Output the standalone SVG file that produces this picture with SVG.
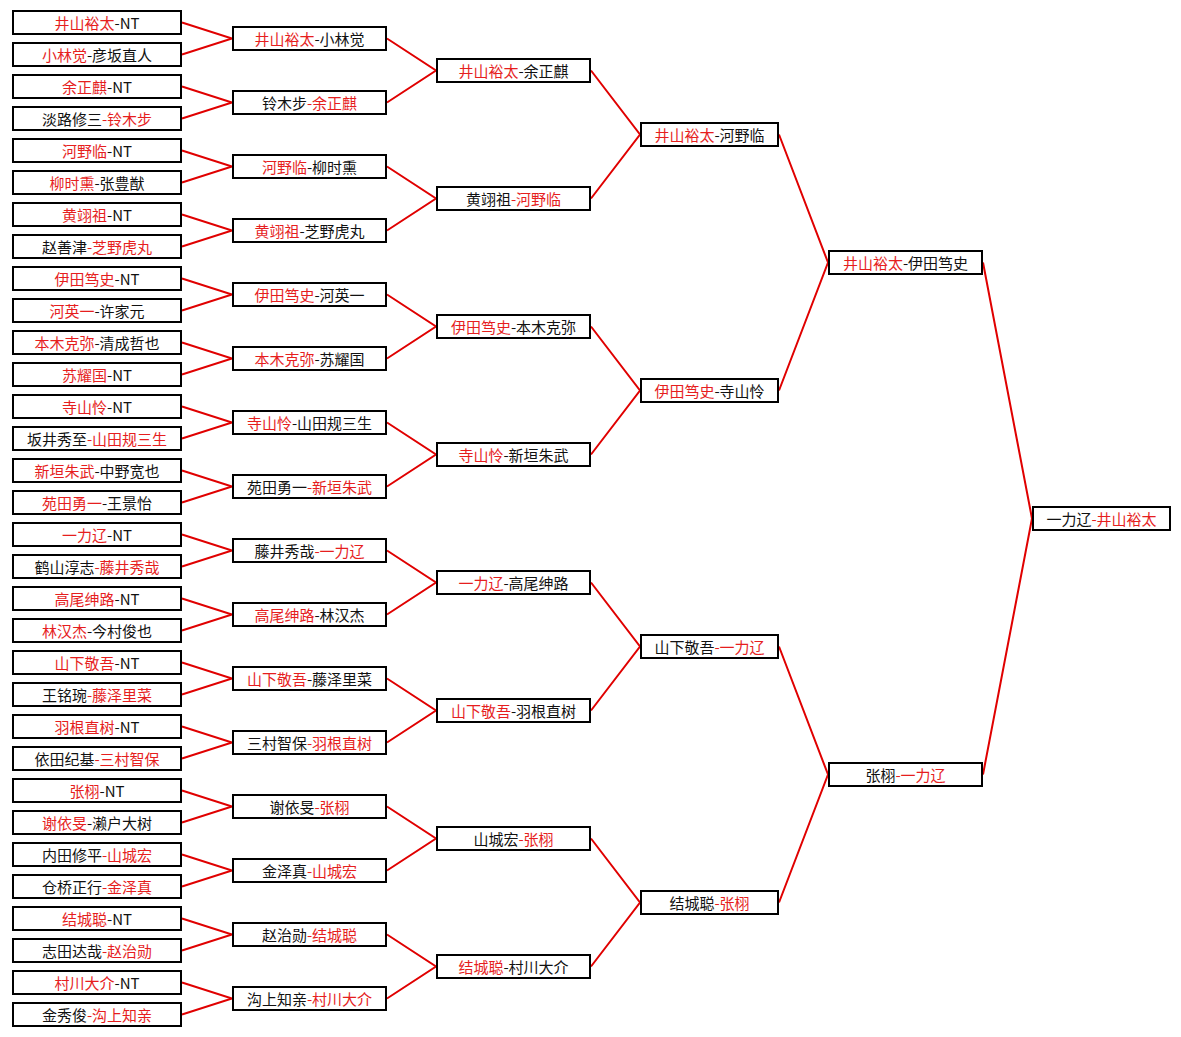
<svg xmlns="http://www.w3.org/2000/svg" width="1181" height="1037" viewBox="0 0 1181 1037">
<style>
.bg{fill:#ffffff}
.wire{fill:none;stroke:#e00000;stroke-width:2}
.box{fill:#ffffff;stroke:#000000;stroke-width:2}
.lbl{font-family:"Noto Sans CJK SC",sans-serif;font-size:15px;text-anchor:middle;fill:#111111}
.w{fill:#e61e1e}
</style>
<rect class="bg" x="0" y="0" width="1181" height="1037"/>
<g id="connectors" class="wire">
<path d="M182 22.5L232 38.5L182 54.5"/>
<path d="M182 86.5L232 102.5L182 118.5"/>
<path d="M182 150.5L232 166.5L182 182.5"/>
<path d="M182 214.5L232 230.5L182 246.5"/>
<path d="M182 278.5L232 294.5L182 310.5"/>
<path d="M182 342.5L232 358.5L182 374.5"/>
<path d="M182 406.5L232 422.5L182 438.5"/>
<path d="M182 470.5L232 486.5L182 502.5"/>
<path d="M182 534.5L232 550.5L182 566.5"/>
<path d="M182 598.5L232 614.5L182 630.5"/>
<path d="M182 662.5L232 678.5L182 694.5"/>
<path d="M182 726.5L232 742.5L182 758.5"/>
<path d="M182 790.5L232 806.5L182 822.5"/>
<path d="M182 854.5L232 870.5L182 886.5"/>
<path d="M182 918.5L232 934.5L182 950.5"/>
<path d="M182 982.5L232 998.5L182 1014.5"/>
<path d="M387 38.5L436 70.5L387 102.5"/>
<path d="M387 166.5L436 198.5L387 230.5"/>
<path d="M387 294.5L436 326.5L387 358.5"/>
<path d="M387 422.5L436 454.5L387 486.5"/>
<path d="M387 550.5L436 582.5L387 614.5"/>
<path d="M387 678.5L436 710.5L387 742.5"/>
<path d="M387 806.5L436 838.5L387 870.5"/>
<path d="M387 934.5L436 966.5L387 998.5"/>
<path d="M591 70.5L640 134.5L591 198.5"/>
<path d="M591 326.5L640 390.5L591 454.5"/>
<path d="M591 582.5L640 646.5L591 710.5"/>
<path d="M591 838.5L640 902.5L591 966.5"/>
<path d="M779 134.5L828 262.5L779 390.5"/>
<path d="M779 646.5L828 774.5L779 902.5"/>
<path d="M983 262.5L1032 518.5L983 774.5"/>
</g>
<g id="round1">
<g id="r1-1"><rect class="box" x="13" y="11" width="168" height="23"/><text class="lbl" x="97" y="28.5"><tspan class="w">井山裕太</tspan>-NT</text></g>
<g id="r1-2"><rect class="box" x="13" y="43" width="168" height="23"/><text class="lbl" x="97" y="60.5"><tspan class="w">小林觉</tspan>-彦坂直人</text></g>
<g id="r1-3"><rect class="box" x="13" y="75" width="168" height="23"/><text class="lbl" x="97" y="92.5"><tspan class="w">余正麒</tspan>-NT</text></g>
<g id="r1-4"><rect class="box" x="13" y="107" width="168" height="23"/><text class="lbl" x="97" y="124.5">淡路修三<tspan class="w">-铃木步</tspan></text></g>
<g id="r1-5"><rect class="box" x="13" y="139" width="168" height="23"/><text class="lbl" x="97" y="156.5"><tspan class="w">河野临</tspan>-NT</text></g>
<g id="r1-6"><rect class="box" x="13" y="171" width="168" height="23"/><text class="lbl" x="97" y="188.5"><tspan class="w">柳时熏</tspan>-张豊猷</text></g>
<g id="r1-7"><rect class="box" x="13" y="203" width="168" height="23"/><text class="lbl" x="97" y="220.5"><tspan class="w">黄翊祖</tspan>-NT</text></g>
<g id="r1-8"><rect class="box" x="13" y="235" width="168" height="23"/><text class="lbl" x="97" y="252.5">赵善津<tspan class="w">-芝野虎丸</tspan></text></g>
<g id="r1-9"><rect class="box" x="13" y="267" width="168" height="23"/><text class="lbl" x="97" y="284.5"><tspan class="w">伊田笃史</tspan>-NT</text></g>
<g id="r1-10"><rect class="box" x="13" y="299" width="168" height="23"/><text class="lbl" x="97" y="316.5"><tspan class="w">河英一</tspan>-许家元</text></g>
<g id="r1-11"><rect class="box" x="13" y="331" width="168" height="23"/><text class="lbl" x="97" y="348.5"><tspan class="w">本木克弥</tspan>-清成哲也</text></g>
<g id="r1-12"><rect class="box" x="13" y="363" width="168" height="23"/><text class="lbl" x="97" y="380.5"><tspan class="w">苏耀国</tspan>-NT</text></g>
<g id="r1-13"><rect class="box" x="13" y="395" width="168" height="23"/><text class="lbl" x="97" y="412.5"><tspan class="w">寺山怜</tspan>-NT</text></g>
<g id="r1-14"><rect class="box" x="13" y="427" width="168" height="23"/><text class="lbl" x="97" y="444.5">坂井秀至<tspan class="w">-山田规三生</tspan></text></g>
<g id="r1-15"><rect class="box" x="13" y="459" width="168" height="23"/><text class="lbl" x="97" y="476.5"><tspan class="w">新垣朱武</tspan>-中野宽也</text></g>
<g id="r1-16"><rect class="box" x="13" y="491" width="168" height="23"/><text class="lbl" x="97" y="508.5"><tspan class="w">苑田勇一</tspan>-王景怡</text></g>
<g id="r1-17"><rect class="box" x="13" y="523" width="168" height="23"/><text class="lbl" x="97" y="540.5"><tspan class="w">一力辽</tspan>-NT</text></g>
<g id="r1-18"><rect class="box" x="13" y="555" width="168" height="23"/><text class="lbl" x="97" y="572.5">鹤山淳志<tspan class="w">-藤井秀哉</tspan></text></g>
<g id="r1-19"><rect class="box" x="13" y="587" width="168" height="23"/><text class="lbl" x="97" y="604.5"><tspan class="w">高尾绅路</tspan>-NT</text></g>
<g id="r1-20"><rect class="box" x="13" y="619" width="168" height="23"/><text class="lbl" x="97" y="636.5"><tspan class="w">林汉杰</tspan>-今村俊也</text></g>
<g id="r1-21"><rect class="box" x="13" y="651" width="168" height="23"/><text class="lbl" x="97" y="668.5"><tspan class="w">山下敬吾</tspan>-NT</text></g>
<g id="r1-22"><rect class="box" x="13" y="683" width="168" height="23"/><text class="lbl" x="97" y="700.5">王铭琬<tspan class="w">-藤泽里菜</tspan></text></g>
<g id="r1-23"><rect class="box" x="13" y="715" width="168" height="23"/><text class="lbl" x="97" y="732.5"><tspan class="w">羽根直树</tspan>-NT</text></g>
<g id="r1-24"><rect class="box" x="13" y="747" width="168" height="23"/><text class="lbl" x="97" y="764.5">依田纪基<tspan class="w">-三村智保</tspan></text></g>
<g id="r1-25"><rect class="box" x="13" y="779" width="168" height="23"/><text class="lbl" x="97" y="796.5"><tspan class="w">张栩</tspan>-NT</text></g>
<g id="r1-26"><rect class="box" x="13" y="811" width="168" height="23"/><text class="lbl" x="97" y="828.5"><tspan class="w">谢依旻</tspan>-濑户大树</text></g>
<g id="r1-27"><rect class="box" x="13" y="843" width="168" height="23"/><text class="lbl" x="97" y="860.5">内田修平<tspan class="w">-山城宏</tspan></text></g>
<g id="r1-28"><rect class="box" x="13" y="875" width="168" height="23"/><text class="lbl" x="97" y="892.5">仓桥正行<tspan class="w">-金泽真</tspan></text></g>
<g id="r1-29"><rect class="box" x="13" y="907" width="168" height="23"/><text class="lbl" x="97" y="924.5"><tspan class="w">结城聪</tspan>-NT</text></g>
<g id="r1-30"><rect class="box" x="13" y="939" width="168" height="23"/><text class="lbl" x="97" y="956.5">志田达哉<tspan class="w">-赵治勋</tspan></text></g>
<g id="r1-31"><rect class="box" x="13" y="971" width="168" height="23"/><text class="lbl" x="97" y="988.5"><tspan class="w">村川大介</tspan>-NT</text></g>
<g id="r1-32"><rect class="box" x="13" y="1003" width="168" height="23"/><text class="lbl" x="97" y="1020.5">金秀俊<tspan class="w">-沟上知亲</tspan></text></g>
</g>
<g id="round2">
<g id="r2-1"><rect class="box" x="233" y="27" width="153" height="23"/><text class="lbl" x="309.5" y="44.5"><tspan class="w">井山裕太</tspan>-小林觉</text></g>
<g id="r2-2"><rect class="box" x="233" y="91" width="153" height="23"/><text class="lbl" x="309.5" y="108.5">铃木步<tspan class="w">-余正麒</tspan></text></g>
<g id="r2-3"><rect class="box" x="233" y="155" width="153" height="23"/><text class="lbl" x="309.5" y="172.5"><tspan class="w">河野临</tspan>-柳时熏</text></g>
<g id="r2-4"><rect class="box" x="233" y="219" width="153" height="23"/><text class="lbl" x="309.5" y="236.5"><tspan class="w">黄翊祖</tspan>-芝野虎丸</text></g>
<g id="r2-5"><rect class="box" x="233" y="283" width="153" height="23"/><text class="lbl" x="309.5" y="300.5"><tspan class="w">伊田笃史</tspan>-河英一</text></g>
<g id="r2-6"><rect class="box" x="233" y="347" width="153" height="23"/><text class="lbl" x="309.5" y="364.5"><tspan class="w">本木克弥</tspan>-苏耀国</text></g>
<g id="r2-7"><rect class="box" x="233" y="411" width="153" height="23"/><text class="lbl" x="309.5" y="428.5"><tspan class="w">寺山怜</tspan>-山田规三生</text></g>
<g id="r2-8"><rect class="box" x="233" y="475" width="153" height="23"/><text class="lbl" x="309.5" y="492.5">苑田勇一<tspan class="w">-新垣朱武</tspan></text></g>
<g id="r2-9"><rect class="box" x="233" y="539" width="153" height="23"/><text class="lbl" x="309.5" y="556.5">藤井秀哉<tspan class="w">-一力辽</tspan></text></g>
<g id="r2-10"><rect class="box" x="233" y="603" width="153" height="23"/><text class="lbl" x="309.5" y="620.5"><tspan class="w">高尾绅路</tspan>-林汉杰</text></g>
<g id="r2-11"><rect class="box" x="233" y="667" width="153" height="23"/><text class="lbl" x="309.5" y="684.5"><tspan class="w">山下敬吾</tspan>-藤泽里菜</text></g>
<g id="r2-12"><rect class="box" x="233" y="731" width="153" height="23"/><text class="lbl" x="309.5" y="748.5">三村智保<tspan class="w">-羽根直树</tspan></text></g>
<g id="r2-13"><rect class="box" x="233" y="795" width="153" height="23"/><text class="lbl" x="309.5" y="812.5">谢依旻<tspan class="w">-张栩</tspan></text></g>
<g id="r2-14"><rect class="box" x="233" y="859" width="153" height="23"/><text class="lbl" x="309.5" y="876.5">金泽真<tspan class="w">-山城宏</tspan></text></g>
<g id="r2-15"><rect class="box" x="233" y="923" width="153" height="23"/><text class="lbl" x="309.5" y="940.5">赵治勋<tspan class="w">-结城聪</tspan></text></g>
<g id="r2-16"><rect class="box" x="233" y="987" width="153" height="23"/><text class="lbl" x="309.5" y="1004.5">沟上知亲<tspan class="w">-村川大介</tspan></text></g>
</g>
<g id="round3">
<g id="r3-1"><rect class="box" x="437" y="59" width="153" height="23"/><text class="lbl" x="513.5" y="76.5"><tspan class="w">井山裕太</tspan>-余正麒</text></g>
<g id="r3-2"><rect class="box" x="437" y="187" width="153" height="23"/><text class="lbl" x="513.5" y="204.5">黄翊祖<tspan class="w">-河野临</tspan></text></g>
<g id="r3-3"><rect class="box" x="437" y="315" width="153" height="23"/><text class="lbl" x="513.5" y="332.5"><tspan class="w">伊田笃史</tspan>-本木克弥</text></g>
<g id="r3-4"><rect class="box" x="437" y="443" width="153" height="23"/><text class="lbl" x="513.5" y="460.5"><tspan class="w">寺山怜</tspan>-新垣朱武</text></g>
<g id="r3-5"><rect class="box" x="437" y="571" width="153" height="23"/><text class="lbl" x="513.5" y="588.5"><tspan class="w">一力辽</tspan>-高尾绅路</text></g>
<g id="r3-6"><rect class="box" x="437" y="699" width="153" height="23"/><text class="lbl" x="513.5" y="716.5"><tspan class="w">山下敬吾</tspan>-羽根直树</text></g>
<g id="r3-7"><rect class="box" x="437" y="827" width="153" height="23"/><text class="lbl" x="513.5" y="844.5">山城宏<tspan class="w">-张栩</tspan></text></g>
<g id="r3-8"><rect class="box" x="437" y="955" width="153" height="23"/><text class="lbl" x="513.5" y="972.5"><tspan class="w">结城聪</tspan>-村川大介</text></g>
</g>
<g id="round4">
<g id="r4-1"><rect class="box" x="641" y="123" width="137" height="23"/><text class="lbl" x="709.5" y="140.5"><tspan class="w">井山裕太</tspan>-河野临</text></g>
<g id="r4-2"><rect class="box" x="641" y="379" width="137" height="23"/><text class="lbl" x="709.5" y="396.5"><tspan class="w">伊田笃史</tspan>-寺山怜</text></g>
<g id="r4-3"><rect class="box" x="641" y="635" width="137" height="23"/><text class="lbl" x="709.5" y="652.5">山下敬吾<tspan class="w">-一力辽</tspan></text></g>
<g id="r4-4"><rect class="box" x="641" y="891" width="137" height="23"/><text class="lbl" x="709.5" y="908.5">结城聪<tspan class="w">-张栩</tspan></text></g>
</g>
<g id="round5">
<g id="r5-1"><rect class="box" x="829" y="251" width="153" height="23"/><text class="lbl" x="905.5" y="268.5"><tspan class="w">井山裕太</tspan>-伊田笃史</text></g>
<g id="r5-2"><rect class="box" x="829" y="763" width="153" height="23"/><text class="lbl" x="905.5" y="780.5">张栩<tspan class="w">-一力辽</tspan></text></g>
</g>
<g id="final">
<g id="r6-1"><rect class="box" x="1033" y="507" width="137" height="23"/><text class="lbl" x="1101.5" y="524.5">一力辽<tspan class="w">-井山裕太</tspan></text></g>
</g>
</svg>
